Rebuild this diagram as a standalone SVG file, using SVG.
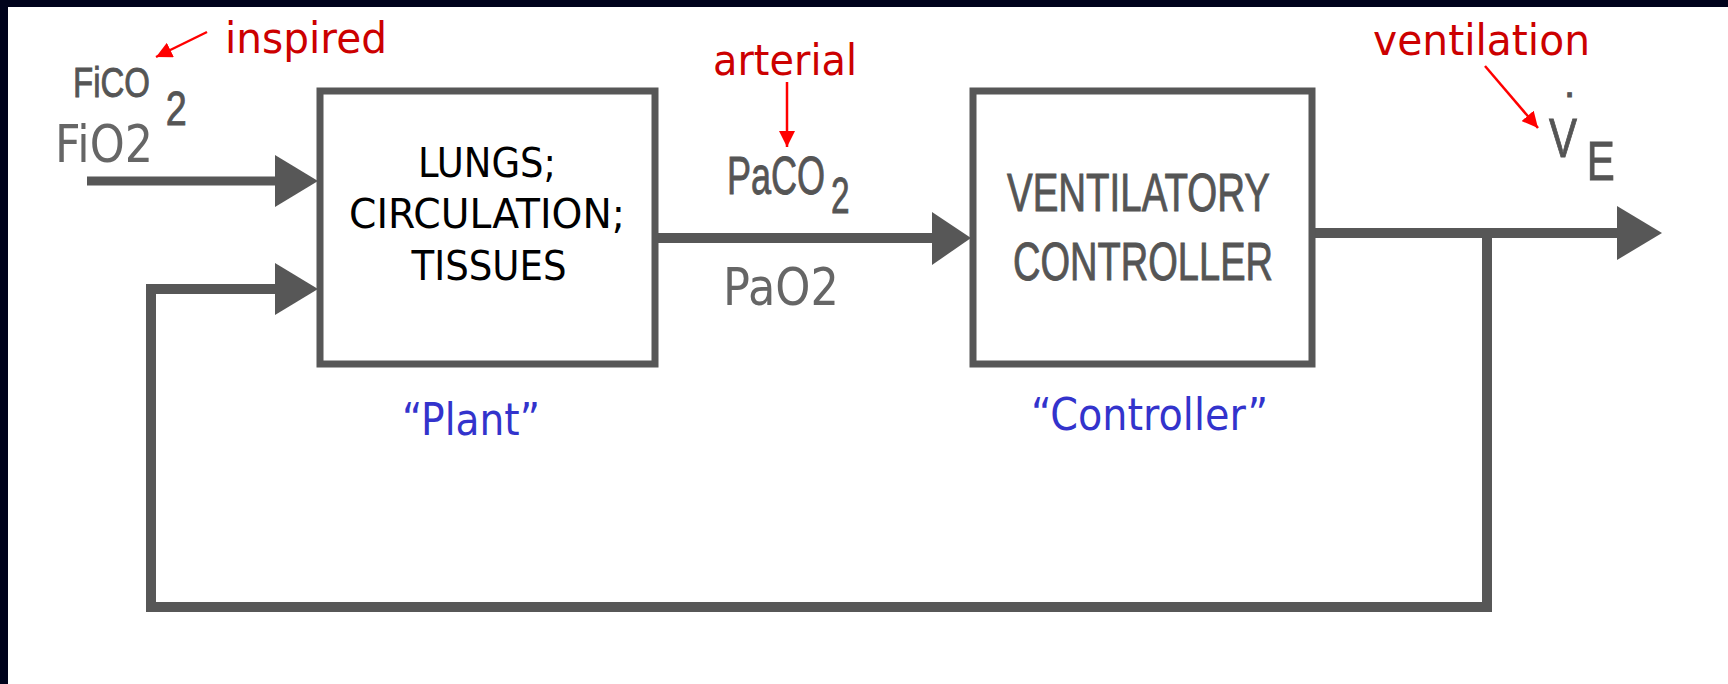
<svg xmlns="http://www.w3.org/2000/svg" width="1728" height="684" viewBox="0 0 1728 684">
<defs>
<style>
.frame{fill:none;stroke:#575757;stroke-width:7}
.wire{fill:none;stroke:#575757;stroke-width:10;stroke-linecap:butt;stroke-linejoin:miter}
.head{fill:#575757}
.note{fill:none;stroke:#ff0000;stroke-width:2.5}
.t{font-family:"DejaVu Sans","Liberation Sans",sans-serif}
.c{font-family:"Liberation Sans",Arial,sans-serif;fill:#555555;stroke:#555555;stroke-width:0.9}
.red{fill:#cc0000;font-size:42px}
.grey{fill:#666666;font-size:52px}
.blk{fill:#000000;font-size:41px}
.blue{fill:#3333cc;font-size:44px}
</style>
<marker id="redhead" viewBox="0 0 10 10" refX="10" refY="5" markerWidth="16" markerHeight="16" markerUnits="userSpaceOnUse" orient="auto">
<path d="M0,0 L10,5 L0,10 z" fill="#ff0000"/>
</marker>
</defs>
<rect x="0" y="0" width="1728" height="684" fill="#00031c"/>
<rect x="8" y="7" width="1722" height="679" fill="#ffffff"/>

<g id="connectors">
<line class="wire" x1="87" y1="181" x2="277" y2="181" style="stroke-width:9"/>
<polygon class="head" points="275,155 275,207 318,181"/>
<polyline class="wire" points="1487,233 1487,607 151,607 151,289 277,289"/>
<polygon class="head" points="275,263 275,315 318,289"/>
<line class="wire" x1="656" y1="238" x2="934" y2="238"/>
<polygon class="head" points="932,212 932,265 971,238"/>
<line class="wire" x1="1312" y1="233" x2="1619" y2="233"/>
<polygon class="head" points="1617,206 1617,260 1662,233"/>
<line class="note" x1="207" y1="32" x2="156" y2="57" marker-end="url(#redhead)"/>
<line class="note" x1="787" y1="82" x2="787" y2="147" marker-end="url(#redhead)"/>
<line class="note" x1="1485" y1="66" x2="1538" y2="128" marker-end="url(#redhead)"/>
</g>

<g id="plant">
<rect class="frame" x="320" y="91" width="335" height="273" fill="#ffffff"/>
<text class="t blk" x="487" y="177" text-anchor="middle" textLength="138" lengthAdjust="spacingAndGlyphs">LUNGS;</text>
<text class="t blk" x="487" y="228" text-anchor="middle" textLength="276" lengthAdjust="spacingAndGlyphs">CIRCULATION;</text>
<text class="t blk" x="489" y="280" text-anchor="middle" textLength="155" lengthAdjust="spacingAndGlyphs">TISSUES</text>
<text class="t blue" x="402" y="435" textLength="138" lengthAdjust="spacingAndGlyphs">“Plant”</text>
</g>

<g id="controller">
<rect class="frame" x="973" y="91" width="339" height="273" fill="#ffffff"/>
<text class="c" x="1007" y="211" font-size="54" textLength="263" lengthAdjust="spacingAndGlyphs">VENTILATORY</text>
<text class="c" x="1013" y="280" font-size="53" textLength="260" lengthAdjust="spacingAndGlyphs">CONTROLLER</text>
<text class="t blue" x="1031" y="430" textLength="237" lengthAdjust="spacingAndGlyphs">“Controller”</text>
</g>

<g id="input">
<text class="t red" x="225" y="53" textLength="162" lengthAdjust="spacingAndGlyphs">inspired</text>
<text class="c" transform="translate(73,97) scale(0.786,1)" font-size="42">FiCO<tspan font-size="48" dx="20" dy="28">2</tspan></text>
<text class="t grey" x="55" y="162" textLength="98" lengthAdjust="spacingAndGlyphs">FiO2</text>
</g>

<g id="arterial">
<text class="t red" x="713" y="75" textLength="144" lengthAdjust="spacingAndGlyphs">arterial</text>
<text class="c" transform="translate(727,194) scale(0.667,1)" font-size="54">PaCO<tspan font-size="50" dx="9" dy="19">2</tspan></text>
<text class="t grey" x="723" y="305" textLength="116" lengthAdjust="spacingAndGlyphs">PaO2</text>
</g>

<g id="output">
<text class="t red" x="1373" y="55" textLength="217" lengthAdjust="spacingAndGlyphs">ventilation</text>
<text class="c" x="1564" y="97" font-size="40">.</text>
<text class="c" transform="translate(1549,157) scale(0.75,1)" font-size="56">V<tspan dx="13" dy="23" transform="">E</tspan></text>
</g>
</svg>
